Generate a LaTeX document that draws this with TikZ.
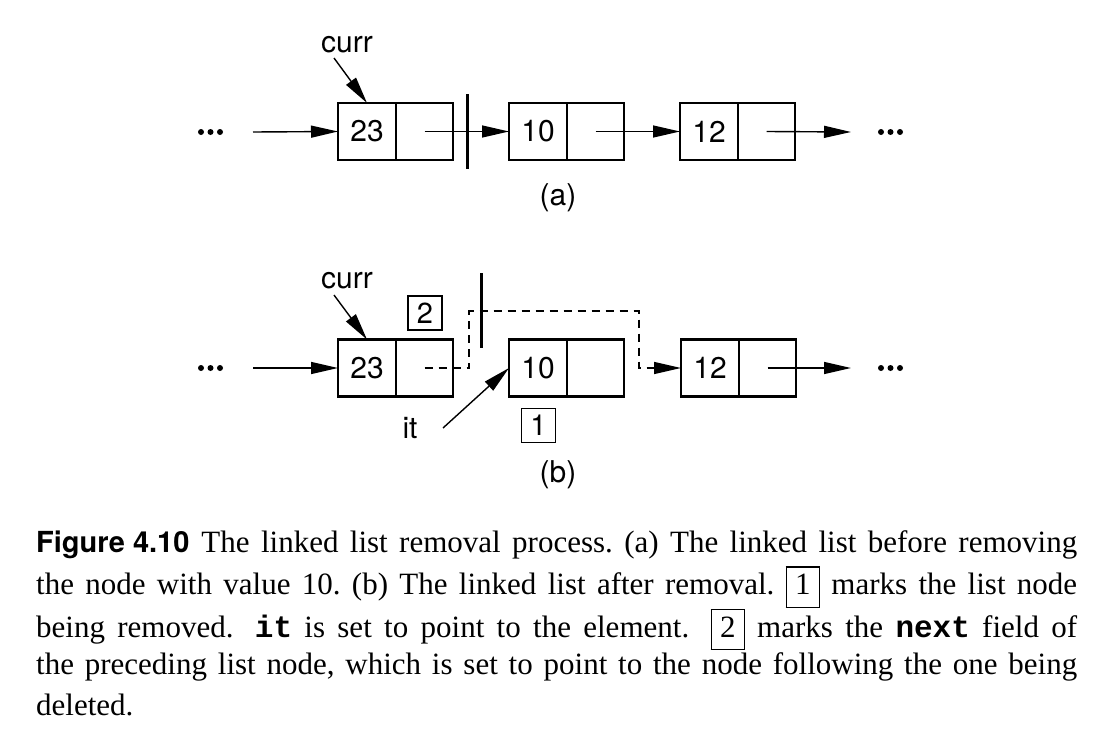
\documentclass[tikz,border=0pt]{standalone}
\usepackage{fontspec}
\setmainfont{Liberation Serif}
\newfontfamily\hv{TeX Gyre Heros}
\newfontfamily\cour{Liberation Mono}
\usetikzlibrary{arrows.meta}
\newcommand\cbox[1]{{\setlength\fboxrule{1.2pt}\setlength\fboxsep{0pt}\fbox{\makebox[32pt]{\rule[-12pt]{0pt}{39pt}#1}}}}
\begin{document}
\frenchspacing
\begin{tikzpicture}[x=1pt,y=-1pt,
  cell/.style={draw, line width=2.4pt, minimum height=57pt, inner sep=0pt, outer sep=0pt, font=\hv\fontsize{30}{30}\selectfont},
  vcell/.style={cell, minimum width=58pt},
  pcell/.style={cell, minimum width=57pt},
  arr/.style={line width=1.4pt, -{Triangle[length=27pt,width=12pt]}},
  lbl/.style={font=\hv\fontsize{30}{30}\selectfont, inner sep=0pt},
  numbox/.style={draw, line width=1.2pt, minimum size=34pt, inner sep=0pt, font=\hv\fontsize{29}{29}\selectfont},
  bar/.style={line width=3pt},
  capline/.style={anchor=base west, inner sep=0pt, font=\fontsize{31}{35}\selectfont}
]
\useasboundingbox (0,0) rectangle (1112,736);

% ---------- (a) ----------
\node[vcell] (v23a) at (367,131.5) {23};
\node[pcell, anchor=west] (p23a) at (v23a.east) {};
\node[vcell] (v10a) at (538,131.5) {10};
\node[pcell, anchor=west] (p10a) at (v10a.east) {};
\node[vcell] (v12a) at (709,131.5) {12};
\node[pcell, anchor=west] (p12a) at (v12a.east) {};

\foreach \x in {201,210.5,220,881,890.5,900} \fill (\x,132) circle (3pt);
\coordinate (ina) at (253,132);
\coordinate (outa) at (851,132);
\draw[arr] (ina) -- (v23a.west);
\draw[arr] (p23a.center) -- (v10a.west);
\draw[arr] (p10a.center) -- (v12a.west);
\draw[arr] (p12a.center) -- (outa);
\draw[bar] (467,94) -- (467,169);

\node[lbl, anchor=base] (curra) at (347,52) {curr};
\coordinate (ca) at (334,58);
\draw[arr] (ca) -- (v23a.north);
\node[lbl, anchor=base] (la) at (558,205) {(a)};

% ---------- (b) ----------
\node[vcell] (v23b) at (367,368) {23};
\node[pcell, anchor=west] (p23b) at (v23b.east) {};
\node[vcell] (v10b) at (538,368) {10};
\node[pcell, anchor=west] (p10b) at (v10b.east) {};
\node[vcell] (v12b) at (710,368) {12};
\node[pcell, anchor=west] (p12b) at (v12b.east) {};

\foreach \x in {201,210.5,220,881,890.5,900} \fill (\x,368) circle (3pt);
\coordinate (inb) at (253,368);
\coordinate (outb) at (851,368);
\draw[arr] (inb) -- (v23b.west);
\draw[arr] (p12b.center) -- (outb);

\coordinate (d1) at (469,311);
\coordinate (d2) at (639,311);
\draw[arr, dash pattern=on 8pt off 6pt] (p23b.center) -| (d1) -- (d2) |- (v12b.west);
\draw[bar] (481,273) -- (481,348);

\node[lbl, anchor=base] (currb) at (347,288) {curr};
\coordinate (cb) at (334,295);
\draw[arr] (cb) -- (v23b.north);

\node[numbox] (n2) at (425,313) {2};
\node[numbox] (n1) at (538.5,425.5) {1};

\node[lbl, anchor=base] (it) at (410,438) {it};
\coordinate (ci) at (443,428);
\draw[arr] (ci) -- (v10b.west);

\node[lbl, anchor=base] (lb) at (558,482) {(b)};

% ---------- caption ----------
\node[capline] (c1) at (36,552.5) {\makebox[1041pt][s]{\mbox{\hv\bfseries\fontsize{29}{35}\selectfont Figure 4.10}\hspace{12pt}The linked list removal process. (a) The linked list before removing}};
\node[capline] (c2) at (36,594.5) {\makebox[1041pt][s]{the node with value 10. (b) The linked list after removal. \cbox{1} marks the list node}};
\node[capline] (c3) at (36,637) {\makebox[1041pt][s]{being removed.\hspace{9pt} {\cour\bfseries it} is set to point to the element.\hspace{9pt} \cbox{2} marks the {\cour\bfseries next} field of}};
\node[capline] (c4) at (36,674.5) {\makebox[1041pt][s]{the preceding list node, which is set to point to the node following the one being}};
\node[capline] (c5) at (36,715.5) {deleted.};
\end{tikzpicture}
\end{document}
